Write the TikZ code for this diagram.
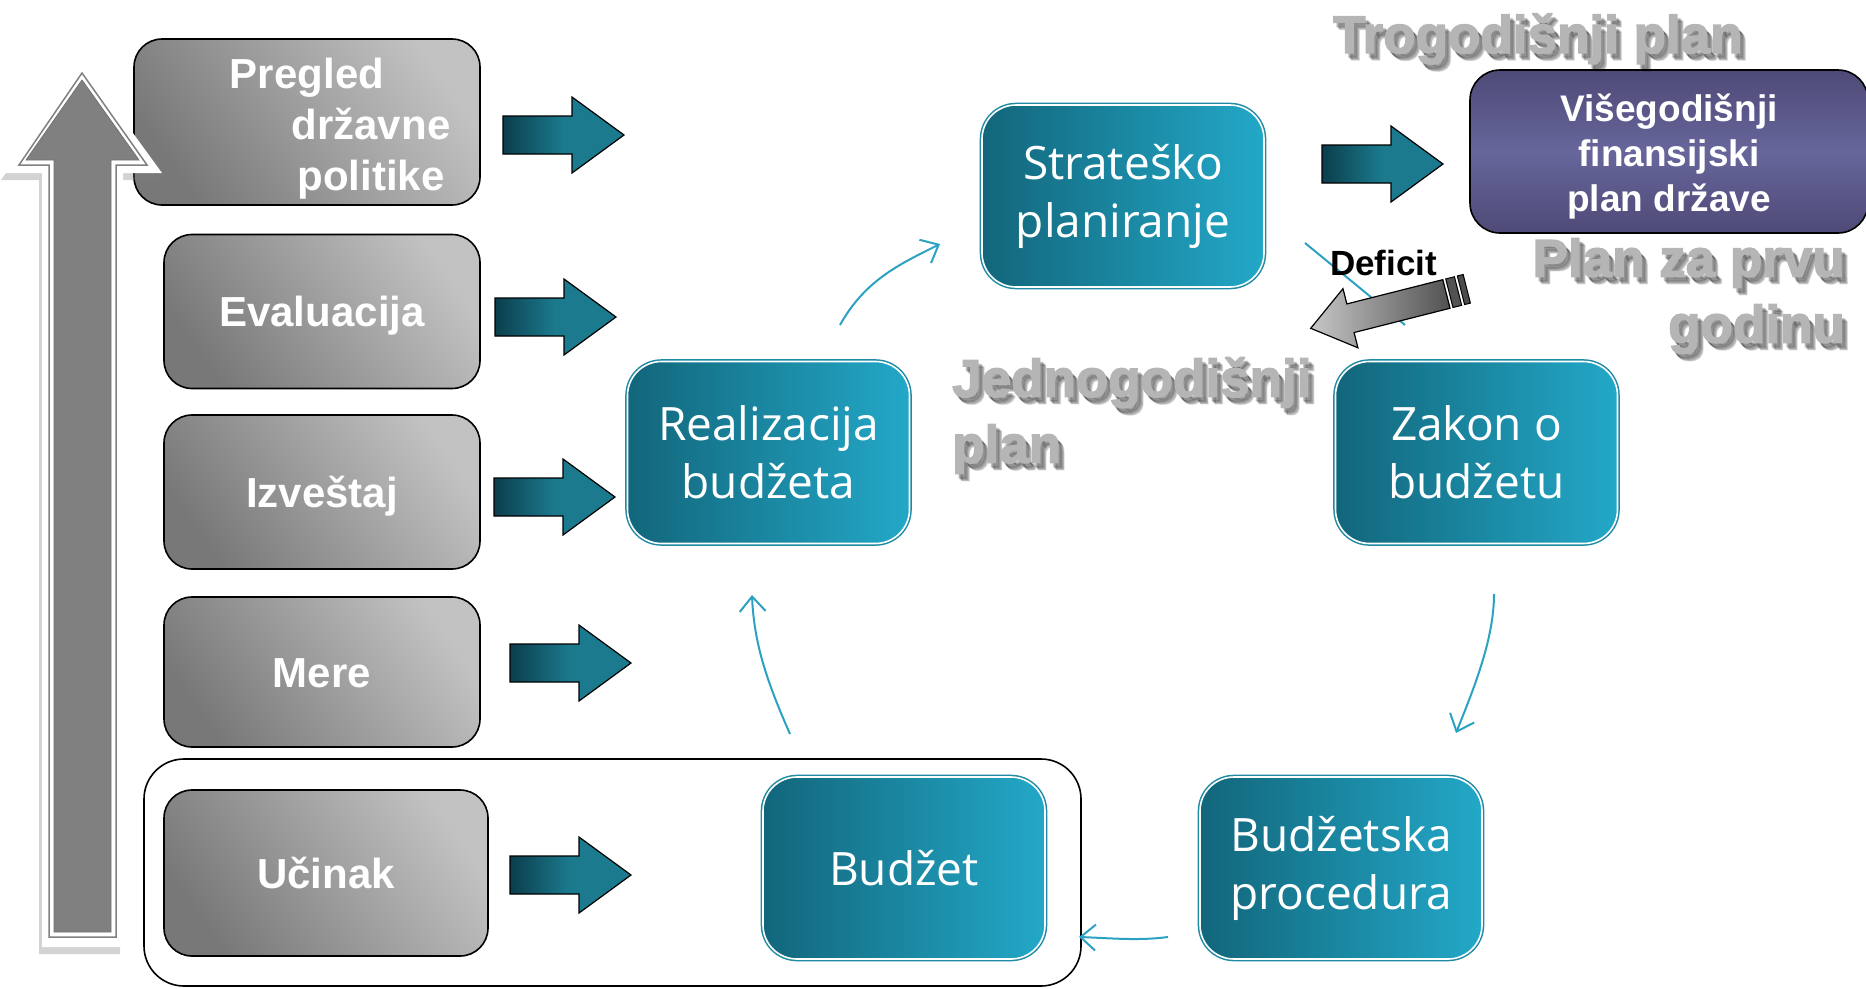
\documentclass[tikz,border=0pt]{standalone}
\usepackage{fontspec}
\setmainfont{Liberation Sans}
\newfontfamily\tealfont{Open Sans}
\newfontfamily\wordartfont[FakeBold=2.5]{Liberation Sans}
\usetikzlibrary{arrows.meta,shadows}

\definecolor{tealL}{HTML}{12667B}
\definecolor{tealR}{HTML}{23A8C8}
\definecolor{tealline}{HTML}{1E8AA3}
\definecolor{flow}{HTML}{2BA2C1}
\definecolor{arrL}{HTML}{0B3E4C}
\definecolor{arrR}{HTML}{1B7A8E}
\definecolor{boxD}{HTML}{787878}
\definecolor{boxL}{HTML}{C2C2C2}
\definecolor{purpA}{HTML}{4E4A77}
\definecolor{purpB}{HTML}{67669B}
\definecolor{artgray}{HTML}{B5B5B5}
\definecolor{upgray}{HTML}{808080}

\tikzset{
  graybox/.style={draw=black,line width=1.6pt,rounded corners=28pt,
    left color=boxD,right color=boxL,shading angle=125,text=white,
    font=\bfseries\fontsize{42}{51}\selectfont,align=center,inner sep=0pt},
  oneline/.style={text height=30pt,text depth=0pt},
  tealbox/.style={minimum width=282pt,minimum height=182pt,rounded corners=34pt,
    left color=tealL,right color=tealR,draw=white,line width=1.6pt,
    preaction={draw=tealline,line width=4.6pt},text=white,
    font=\tealfont\fontsize{46}{58}\selectfont,align=center,inner sep=0pt},
  blockarr/.style={draw=black,line width=1.2pt,left color=arrL,right color=arrR,middle color=arrR},
  flowarr/.style={draw=flow,line width=2pt,-{Straight Barb[length=15pt,width=26pt]}},
  arttext/.style={text=artgray,inner sep=0pt},
  artshadow/.style={text=black,opacity=.13,inner sep=0pt}
}

\begin{document}
\begin{tikzpicture}[x=1pt,y=-1pt]
  \useasboundingbox (0,0) rectangle (1866,988);

  % frame round Ucinak and Budzet
  \node[draw=black,line width=1.6pt,rounded corners=40pt,minimum width=937pt,minimum height=227pt] (grp) at (612.5,872.5) {};

  % left column
  \node[graybox,minimum width=346pt,minimum height=166pt] (preg) at (307,122) {\rule{0pt}{43pt}Pregled\\\hspace*{128pt}državne\\\hspace*{128pt}politike};
  \node[graybox,oneline,minimum width=316pt,minimum height=154pt] (eval) at (322,311.5) {Evaluacija};
  \node[graybox,oneline,minimum width=316pt,minimum height=154pt] (izv) at (322,492) {Izveštaj};
  \node[graybox,oneline,minimum width=316pt,minimum height=150pt] (mere) at (322,672) {Mere};
  \node[graybox,oneline,minimum width=324pt,minimum height=166pt] (ucin) at (326,873) {Učinak};

  % big up arrow
  \path[fill=white,drop shadow={shadow xshift=-3pt,shadow yshift=-7pt,opacity=.35}]
    (82,63) -- (162,173) -- (123,173) -- (123,947) -- (42,947) -- (42,173) -- (4,173) -- cycle;
  \draw[upgray,line width=1.5pt] (82,73) -- (147,165) -- (116,165) -- (116,937) -- (49,937) -- (49,165) -- (19,165) -- cycle;
  \draw[fill=upgray,draw=black!55,line width=.8pt] (82,80) -- (139,160) -- (111,160) -- (111,932) -- (54,932) -- (54,160) -- (26,160) -- cycle;

  % cycle
  \node[tealbox] (strat) at (1123,196) {Strateško\\planiranje};
  \node[tealbox] (real) at (768.5,452.5) {Realizacija\\budžeta};
  \node[tealbox] (zakon) at (1476.5,452.5) {Zakon o\\budžetu};
  \node[tealbox] (proc) at (1341,868) {Budžetska\\procedura};
  \node[tealbox] (budzet) at (904,868) {Budžet};

  \node[draw=black,line width=1.6pt,rounded corners=30pt,minimum width=398pt,minimum height=163pt,
    top color=purpA,bottom color=purpA,middle color=purpB,text=white,align=center,inner sep=0pt,
    font=\bfseries\fontsize{37}{45}\selectfont] (vise) at (1669,151.5) {\rule{0pt}{37pt}Višegodišnji\\finansijski\\plan države};

  % block arrows
  \foreach \x/\y in {503/135,495/317,494/497,510/663,510/875,1322/164}
    \draw[blockarr,shift={(\x,\y)}] (0,-19) -- (69,-19) -- (69,-38) -- (121,0) -- (69,38) -- (69,19) -- (0,19) -- cycle;

  % thin arrows
  \coordinate (r1) at (840,325);
  \coordinate (s1) at (940,244);
  \coordinate (z1) at (1494,594);
  \coordinate (p1) at (1456,733);
  \coordinate (p2) at (1168,937);
  \coordinate (b2) at (1079,937);
  \coordinate (b3) at (790,734);
  \coordinate (r3) at (752,595);
  \draw[flowarr] (r1) .. controls +(25,-45) and +(-40,20) .. (s1);
  \draw[flowarr] (z1) .. controls +(0,45) and +(18,-45) .. (p1);
  \draw[flowarr] (p2) .. controls +(-30,4) and +(30,1) .. (b2);
  \draw[flowarr] (b3) .. controls +(-22,-50) and +(2,50) .. (r3);

  % shadowed titles
  \foreach \dx/\dy in {3/4,5/6,4/5,6/7}{
    \node[artshadow,anchor=base west,font=\wordartfont\bfseries\fontsize{53}{66}\selectfont] (trogsh) at (1333+\dx,53+\dy) {Trogodišnji plan};
    \node[artshadow,anchor=north east,align=right,font=\wordartfont\bfseries\fontsize{53}{66}\selectfont] (prvash) at (1845+\dx,238+\dy) {Plan za prvu\\godinu};
    \node[artshadow,anchor=north west,align=left,font=\wordartfont\bfseries\fontsize{53}{66}\selectfont] (jednosh) at (952+\dx,357+\dy) {Jednogodišnji\\plan};
  }
  \node[arttext,anchor=base west,font=\wordartfont\bfseries\fontsize{53}{66}\selectfont] (trog) at (1333,53) {Trogodišnji plan};
  \node[arttext,anchor=north east,align=right,font=\wordartfont\bfseries\fontsize{53}{66}\selectfont] (prva) at (1845,238) {Plan za prvu\\godinu};
  \node[arttext,anchor=north west,align=left,font=\wordartfont\bfseries\fontsize{53}{66}\selectfont] (jedno) at (952,357) {Jednogodišnji\\plan};

  % deficit
  \coordinate (d1) at (1305,243);
  \coordinate (d2) at (1405,325);
  \draw[flow,line width=2pt] (d1) -- (d2);
  \node[anchor=base west,inner sep=0pt,font=\bfseries\fontsize{35}{42}\selectfont] (defl) at (1330,275) {Deficit};
  \begin{scope}[shift={(1310.7,328.3)},rotate=14.2]
    \draw[draw=black,line width=1.2pt,left color=black!22,right color=black!68]
      (0,0) -- (41,-30.5) -- (41,-14.75) -- (140,-14.75) -- (140,14.75) -- (41,14.75) -- (41,30.5) -- cycle;
    \draw[fill=black!68,line width=1pt] (143,-14.75) rectangle (152,14.75);
    \draw[fill=black!70,line width=1pt] (155,-14.75) rectangle (161,14.75);
  \end{scope}
\end{tikzpicture}
\end{document}
